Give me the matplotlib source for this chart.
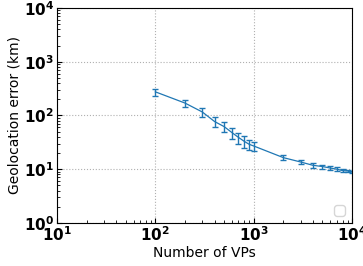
import numpy as np
import matplotlib
matplotlib.use("Agg")
import matplotlib.pyplot as plt

# ── Data ──────────────────────────────────────────────────
num_vps = [100, 200, 300, 400, 500, 600, 700, 800, 900, 1000,
           2000, 3000, 4000, 5000, 6000, 7000, 8000, 9000, 10000]
geo_error = [275, 170, 116, 77, 62, 48, 39, 33, 29, 27,
             16.4, 13.6, 11.8, 11.2, 10.5, 10.0, 9.4, 9.3, 8.9]
error_std = [40, 28, 22, 17, 13, 11, 9, 8, 6, 5,
             1.6, 1.3, 1.1, 1.0, 0.9, 0.8, 0.6, 0.5, 0.4]

# ── Plot ──────────────────────────────────────────────────
fig, ax = plt.subplots(figsize=(3.63, 2.66), dpi=100)
ax.errorbar(num_vps, geo_error, yerr=error_std, color="#1f77b4",
            linewidth=0.9, elinewidth=1.0, capsize=2, capthick=1.0)

ax.set_xscale("log")
ax.set_yscale("log")
ax.set_xlim(10, 1e4)
ax.set_ylim(1, 1e4)
ax.grid(True, linestyle=":", color="#b0b0b0", linewidth=0.8)

ax.set_xlabel("Number of VPs", fontsize=10, labelpad=1)
ax.set_ylabel("Geolocation error (km)", fontsize=10, labelpad=2)
ax.tick_params(which="both", direction="in", labelsize=11, pad=2)
plt.setp(ax.get_xticklabels(), fontweight="bold")
plt.setp(ax.get_yticklabels(), fontweight="bold")

ax.legend(handles=[], loc="lower right")

plt.subplots_adjust(left=0.157, right=0.97, top=0.97, bottom=0.162)
plt.savefig("out.png", dpi=100)
